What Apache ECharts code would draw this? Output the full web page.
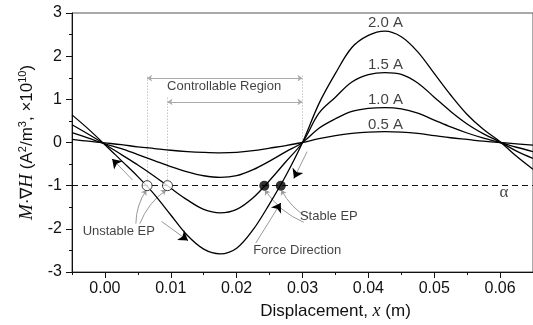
<!DOCTYPE html>
<html>
<head>
<meta charset="utf-8">
<script src="https://cdn.jsdelivr.net/npm/echarts@6/dist/echarts.min.js"></script>
<style>
  html, body { margin: 0; padding: 0; background: #fff; }
  #main { width: 533px; height: 325px; }
</style>
</head>
<body>
<div id="main"></div>
<script>
// displacement x (m)
var xs = [-0.005, -0.0025, 0, 0.0025, 0.005, 0.0075, 0.01, 0.0125, 0.015, 0.0175,
          0.02, 0.0225, 0.025, 0.0275, 0.03, 0.0325, 0.035, 0.0375, 0.04, 0.0425,
          0.045, 0.0475, 0.05, 0.0525, 0.055, 0.0575, 0.06, 0.0625, 0.065];

// M·∇H for each coil current (x10^10)
var i05 = [0.07, 0.03, -0.01, -0.05, -0.1, -0.14, -0.18, -0.21, -0.23, -0.24,
           -0.23, -0.19, -0.13, -0.07, 0, 0.09, 0.16, 0.21, 0.24, 0.25,
           0.24, 0.21, 0.16, 0.11, 0.07, 0.03, 0.0, -0.03, -0.06];
var i10 = [0.23, 0.1, -0.03, -0.14, -0.28, -0.42, -0.56, -0.68, -0.77, -0.81,
           -0.77, -0.63, -0.43, -0.21, 0, 0.33, 0.55, 0.72, 0.79, 0.81,
           0.78, 0.68, 0.52, 0.36, 0.22, 0.1, 0.0, -0.11, -0.21];
var i15 = [0.41, 0.19, -0.04, -0.28, -0.52, -0.78, -1.06, -1.33, -1.55, -1.63,
           -1.55, -1.28, -0.88, -0.44, 0, 0.68, 1.05, 1.4, 1.57, 1.62,
           1.58, 1.38, 1.05, 0.72, 0.43, 0.2, 0.01, -0.2, -0.37];
var i20 = [0.64, 0.31, -0.05, -0.42, -0.79, -1.2, -1.68, -2.15, -2.47, -2.58,
           -2.45, -2.02, -1.42, -0.76, 0, 0.9, 1.6, 2.2, 2.48, 2.58,
           2.45, 2.1, 1.6, 1.1, 0.65, 0.3, 0.02, -0.32, -0.62];

var alpha = -1;   // the dashed level
var unstableEP = [[0.0064, -1], [0.0095, -1]];
var stableEP = [[0.0242, -1], [0.0267, -1]];

// tick labels
var xMajor = [0, 0.01, 0.02, 0.03, 0.04, 0.05, 0.06];
var xMinor = [-0.005, 0.005, 0.015, 0.025, 0.035, 0.045, 0.055, 0.065];

// text annotations [x, y, text]
var curveLabels = [[0.0426, 2.77, '2.0 A'], [0.0426, 1.79, '1.5 A'],
                   [0.0426, 0.98, '1.0 A'], [0.0426, 0.40, '0.5 A']];
var notes = [[0.0181, 1.31, 'Controllable Region'], [0.0021, -2.07, 'Unstable EP'],
             [0.0340, -1.72, 'Stable EP'], [0.0292, -2.49, 'Force Direction']];

// controllable region (dotted guides + double arrows)
var guides = [[[0.0064, -1], [0.0064, 1.55]], [[0.0095, -1], [0.0095, 1.05]], [[0.03, 0], [0.03, 1.55]]];
var regionArrows = [[[0.0064, 1.49], [0.03, 1.49]], [[0.0095, 0.94], [0.03, 0.94]]];

// force direction arrows
var forceArrows = [[[0.0042, -0.87], [0.0011, -0.38]], [[0.0086, -1.83], [0.0126, -2.27]],
                   [[0.0229, -2.33], [0.0267, -1.40]], [[0.0307, -0.21], [0.0287, -0.83]]];
// pointers from the labels to the EPs
var pointers = [[[0.0047, -1.88], [0.0063, -1.1]], [[0.0053, -1.88], [0.0093, -1.1]],
                [[0.0302, -1.85], [0.0243, -1.1]], [[0.0309, -1.75], [0.0268, -1.1]]];

var mcharts = echarts.init(document.getElementById('main'));

function pairs(ys) {
    var out = [];
    for (var i = 0; i < xs.length; i++) out.push([xs[i], ys[i]]);
    return out;
}

function curve(name, ys) {
    return {
        name: name, type: 'line', data: pairs(ys), smooth: 0.35,
        showSymbol: false, z: 3,
        lineStyle: { color: '#000', width: 1.3 }
    };
}

// short black piece at the end of each force arrow for the head
var heads = forceArrows.map(function (a) {
    var p = a[0], q = a[1];
    return { coords: [[q[0] - (q[0] - p[0]) * 0.05, q[1] - (q[1] - p[1]) * 0.05], q] };
});

var font = 'Liberation Sans, Arial, sans-serif';

var option = {
    animation: false,
    textStyle: { fontFamily: font },
    grid: { left: 72, top: 13, right: -2, bottom: 53, show: true, borderColor: '#555', borderWidth: 1 },
    xAxis: [{
        type: 'value', min: -0.005, max: 0.065,
        name: '{n|Displacement, }{i|x}{n| (m)}',
        nameLocation: 'middle', nameGap: 28,
        nameTextStyle: {
            padding: [0, 0, 0, 66],
            rich: {
                n: { fontFamily: font, fontSize: 17, color: '#111' },
                i: { fontFamily: 'Liberation Serif, serif', fontStyle: 'italic', fontSize: 18, color: '#111' }
            }
        },
        axisLine: { onZero: false, lineStyle: { color: '#111', width: 1 } },
        axisTick: { show: true, length: 6, customValues: xMajor, lineStyle: { color: '#111' } },
        axisLabel: { customValues: xMajor, margin: 9, fontSize: 16, color: '#111',
            formatter: function (v) { return v.toFixed(2); } },
        splitLine: { show: false }
    }, {
        type: 'value', min: -0.005, max: 0.065, position: 'bottom',
        axisLine: { show: false, onZero: false },
        axisTick: { show: true, length: 3, customValues: xMinor, lineStyle: { color: '#111' } },
        axisLabel: { show: false },
        splitLine: { show: false }
    }],
    yAxis: {
        type: 'value', min: -3, max: 3, interval: 1,
        name: '{i|M}{n|·∇}{i|H}{n| (A}{s|2}{n|/m}{s|3}{n|, ×10}{s|10}{n|)}',
        nameLocation: 'middle', nameGap: 36,
        nameTextStyle: {
            rich: {
                n: { fontFamily: font, fontSize: 17, color: '#111', verticalAlign: 'bottom' },
                i: { fontFamily: 'Liberation Serif, serif', fontStyle: 'italic', fontSize: 19, color: '#111', verticalAlign: 'bottom' },
                s: { fontFamily: font, fontSize: 11, color: '#111', verticalAlign: 'top' }
            }
        },
        axisLine: { show: true, onZero: false, lineStyle: { color: '#111', width: 1 } },
        axisTick: { show: true, length: 6, lineStyle: { color: '#111' } },
        minorTick: { show: true, splitNumber: 2, length: 3, lineStyle: { color: '#111' } },
        axisLabel: { fontSize: 16, color: '#111', margin: 10 },
        splitLine: { show: false }
    },
    series: [
        curve('0.5 A', i05),
        curve('1.0 A', i10),
        curve('1.5 A', i15),
        curve('2.0 A', i20),
        {
            // dashed alpha level
            type: 'line', data: [], silent: true,
            markLine: {
                symbol: 'none', silent: true, label: { show: false },
                lineStyle: { color: '#111', type: [6, 4], width: 1 },
                data: [{ yAxis: alpha }]
            }
        },
        {
            type: 'lines', coordinateSystem: 'cartesian2d', silent: true, z: 1,
            lineStyle: { color: '#aaa', width: 1, type: [1, 2], opacity: 1 },
            data: guides.map(function (g) { return { coords: g }; })
        },
        {
            type: 'lines', coordinateSystem: 'cartesian2d', silent: true, z: 1,
            symbol: ['arrow', 'arrow'], symbolSize: 5,
            itemStyle: { color: '#aaa' },
            lineStyle: { color: '#aaa', width: 1, opacity: 1 },
            data: regionArrows.map(function (g) { return { coords: g }; })
        },
        {
            type: 'lines', coordinateSystem: 'cartesian2d', silent: true, z: 2,
            lineStyle: { color: '#999', width: 1, opacity: 1 },
            data: forceArrows.map(function (g) { return { coords: g }; })
        },
        {
            type: 'lines', coordinateSystem: 'cartesian2d', silent: true, z: 4,
            symbol: ['none', 'arrow'], symbolSize: 9,
            itemStyle: { color: '#000' },
            lineStyle: { color: '#000', width: 1, opacity: 1 },
            data: heads
        },
        {
            type: 'lines', coordinateSystem: 'cartesian2d', silent: true, z: 2,
            symbol: ['none', 'arrow'], symbolSize: 5,
            itemStyle: { color: '#999' },
            lineStyle: { color: '#999', width: 1, curveness: 0.15, opacity: 1 },
            data: pointers.map(function (g) { return { coords: g }; })
        },
        {
            type: 'scatter', data: unstableEP, symbolSize: 10, z: 5,
            itemStyle: { color: '#fff', borderColor: '#111', borderWidth: 1 }
        },
        {
            type: 'scatter', data: stableEP, symbolSize: 10, z: 5,
            itemStyle: { color: '#000' }
        },
        {
            // all texts placed in data units
            type: 'scatter', symbolSize: 0, silent: true, z: 6,
            data: curveLabels.map(function (d) {
                return { value: d, label: { fontSize: 15 } };
            }).concat(notes.map(function (d) {
                return { value: d, label: { fontSize: 13 } };
            })).concat([{ value: [0.0606, -1.17, 'α'],
                label: { fontSize: 17, fontFamily: 'Liberation Serif, serif' } }]),
            label: {
                show: true, position: 'inside', color: '#111', fontFamily: font,
                formatter: function (p) { return p.data.value[2]; }
            }
        }
    ]
};

mcharts.setOption(option, true);
</script>
</body>
</html>
